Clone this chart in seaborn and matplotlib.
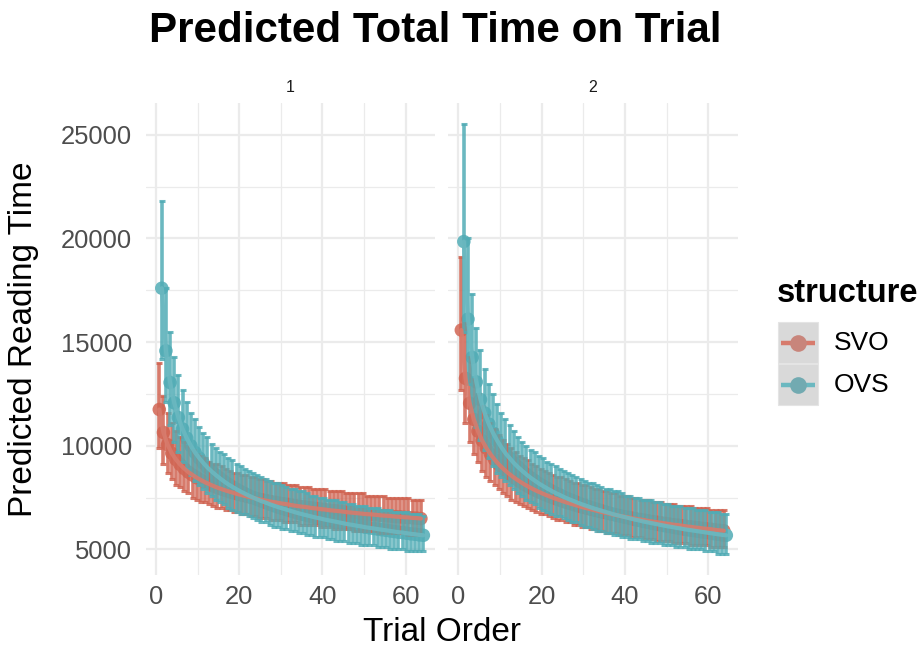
import numpy as np
import pandas as pd
import matplotlib
matplotlib.use('Agg')
import matplotlib.pyplot as plt
import seaborn as sns
from matplotlib.lines import Line2D
from matplotlib.patches import Rectangle
from matplotlib.ticker import FixedLocator

# ---------------- data ----------------
trials = list(range(1, 65))
structures = ['SVO', 'OVS']
panels = ['1', '2']
title = 'Predicted Total Time on Trial'
x_label = 'Trial Order'
y_label = 'Predicted Reading Time'
legend_title = 'structure'
x_ticks = [0, 20, 40, 60]
y_ticks = [5000, 10000, 15000, 20000, 25000]

svo1_fit = [11750, 10640, 10050, 9640, 9340, 9100, 8900, 8730, 8590, 8460, 8350, 8240, 8150, 8060, 7980, 7910,
            7840, 7780, 7720, 7660, 7610, 7560, 7510, 7470, 7420, 7380, 7340, 7300, 7270, 7230, 7200, 7170,
            7130, 7100, 7070, 7050, 7020, 6990, 6970, 6940, 6920, 6890, 6870, 6850, 6830, 6800, 6780, 6760,
            6740, 6720, 6700, 6690, 6670, 6650, 6630, 6620, 6600, 6580, 6570, 6550, 6540, 6520, 6510, 6490]
svo1_lo = [9900, 9100, 8700, 8400, 8100, 8000, 7800, 7700, 7500, 7400, 7300, 7300, 7200, 7100, 7000, 7000,
           6900, 6900, 6800, 6800, 6700, 6700, 6600, 6600, 6500, 6500, 6500, 6400, 6400, 6400, 6300, 6300,
           6300, 6300, 6200, 6200, 6200, 6200, 6200, 6100, 6100, 6100, 6000, 6000, 6000, 6000, 6000, 5900,
           5900, 5900, 5900, 5900, 5900, 5800, 5800, 5800, 5800, 5800, 5800, 5800, 5700, 5700, 5700, 5700]
svo1_hi = [14000, 12400, 11600, 11100, 10700, 10400, 10200, 10000, 9800, 9600, 9500, 9400, 9200, 9100, 9100, 9000,
           8900, 8800, 8700, 8700, 8600, 8600, 8500, 8500, 8400, 8400, 8300, 8300, 8200, 8200, 8200, 8100,
           8100, 8100, 8000, 8000, 8000, 7900, 7900, 7900, 7900, 7800, 7800, 7800, 7800, 7700, 7700, 7700,
           7700, 7700, 7600, 7600, 7600, 7600, 7600, 7500, 7500, 7500, 7500, 7500, 7500, 7400, 7400, 7400]

ovs1_fit = [17600, 14580, 13050, 12070, 11360, 10810, 10370, 10000, 9680, 9410, 9170, 8950, 8760, 8590, 8430, 8280,
            8140, 8020, 7900, 7790, 7690, 7590, 7500, 7410, 7330, 7260, 7180, 7110, 7040, 6980, 6920, 6860,
            6800, 6740, 6690, 6640, 6590, 6540, 6500, 6450, 6410, 6370, 6330, 6290, 6250, 6210, 6180, 6140,
            6110, 6070, 6040, 6010, 5980, 5950, 5920, 5890, 5860, 5830, 5810, 5780, 5750, 5730, 5700, 5680]
ovs1_lo = [14200, 12100, 11000, 10200, 9700, 9200, 8900, 8600, 8300, 8100, 7900, 7700, 7600, 7400, 7300, 7200,
           7000, 6900, 6800, 6700, 6700, 6600, 6500, 6400, 6300, 6300, 6200, 6100, 6100, 6000, 6000, 5900,
           5900, 5800, 5800, 5700, 5700, 5600, 5600, 5600, 5500, 5500, 5400, 5400, 5400, 5300, 5300, 5300,
           5200, 5200, 5200, 5200, 5100, 5100, 5100, 5000, 5000, 5000, 5000, 4900, 4900, 4900, 4900, 4900]
ovs1_hi = [21800, 17600, 15500, 14300, 13400, 12700, 12100, 11600, 11300, 10900, 10600, 10400, 10100, 9900, 9700, 9600,
           9400, 9300, 9100, 9000, 8900, 8800, 8700, 8600, 8500, 8400, 8300, 8200, 8200, 8100, 8000, 7900,
           7900, 7800, 7800, 7700, 7600, 7600, 7500, 7500, 7400, 7400, 7400, 7300, 7300, 7200, 7200, 7100,
           7100, 7100, 7000, 7000, 7000, 6900, 6900, 6900, 6800, 6800, 6800, 6800, 6700, 6700, 6700, 6600]

svo2_fit = [15580, 13250, 12050, 11270, 10700, 10250, 9890, 9590, 9330, 9100, 8900, 8720, 8560, 8410, 8280, 8150,
            8040, 7930, 7830, 7740, 7650, 7570, 7490, 7420, 7350, 7280, 7220, 7160, 7100, 7040, 6990, 6940,
            6890, 6840, 6790, 6750, 6700, 6660, 6620, 6580, 6550, 6510, 6470, 6440, 6410, 6370, 6340, 6310,
            6280, 6250, 6220, 6190, 6170, 6140, 6110, 6090, 6060, 6040, 6010, 5990, 5970, 5940, 5920, 5900]
svo2_lo = [12700, 11100, 10200, 9600, 9200, 8800, 8500, 8300, 8100, 7900, 7700, 7600, 7400, 7300, 7200, 7100,
           7000, 6900, 6800, 6700, 6700, 6600, 6500, 6400, 6400, 6300, 6300, 6200, 6200, 6100, 6100, 6000,
           6000, 5900, 5900, 5800, 5800, 5800, 5700, 5700, 5700, 5600, 5600, 5600, 5500, 5500, 5500, 5400,
           5400, 5400, 5400, 5300, 5300, 5300, 5300, 5200, 5200, 5200, 5200, 5200, 5100, 5100, 5100, 5100]
svo2_hi = [19100, 15900, 14300, 13200, 12500, 11900, 11500, 11100, 10800, 10500, 10300, 10100, 9900, 9700, 9500, 9400,
           9300, 9100, 9000, 8900, 8800, 8700, 8600, 8500, 8500, 8400, 8300, 8200, 8200, 8100, 8100, 8000,
           7900, 7900, 7800, 7800, 7700, 7700, 7600, 7600, 7600, 7500, 7500, 7400, 7400, 7400, 7300, 7300,
           7300, 7200, 7200, 7200, 7100, 7100, 7100, 7100, 7000, 7000, 7000, 7000, 6900, 6900, 6900, 6900]

ovs2_fit = [19850, 16110, 14260, 13080, 12230, 11580, 11050, 10620, 10250, 9930, 9640, 9400, 9170, 8970, 8790, 8620,
            8460, 8320, 8180, 8060, 7940, 7830, 7720, 7630, 7530, 7440, 7360, 7280, 7200, 7130, 7060, 6990,
            6930, 6870, 6810, 6750, 6690, 6640, 6590, 6540, 6490, 6440, 6400, 6350, 6310, 6270, 6230, 6190,
            6150, 6110, 6080, 6040, 6010, 5970, 5940, 5910, 5880, 5850, 5820, 5790, 5760, 5730, 5700, 5680]
ovs2_lo = [15500, 13000, 11700, 10900, 10300, 9800, 9400, 9000, 8700, 8500, 8300, 8100, 7900, 7700, 7600, 7400,
           7300, 7200, 7000, 6900, 6800, 6700, 6600, 6600, 6500, 6400, 6300, 6300, 6200, 6100, 6100, 6000,
           5900, 5900, 5800, 5800, 5700, 5700, 5600, 5600, 5500, 5500, 5500, 5400, 5400, 5300, 5300, 5300,
           5200, 5200, 5200, 5100, 5100, 5100, 5000, 5000, 5000, 5000, 4900, 4900, 4900, 4800, 4800, 4800]
ovs2_hi = [25500, 20000, 17300, 15700, 14600, 13700, 13000, 12500, 12000, 11600, 11300, 11000, 10700, 10400, 10200, 10000,
           9800, 9700, 9500, 9400, 9200, 9100, 9000, 8900, 8800, 8700, 8600, 8500, 8400, 8300, 8200, 8200,
           8100, 8000, 7900, 7900, 7800, 7800, 7700, 7600, 7600, 7500, 7500, 7400, 7400, 7400, 7300, 7300,
           7200, 7200, 7100, 7100, 7100, 7000, 7000, 7000, 6900, 6900, 6900, 6800, 6800, 6800, 6700, 6700]

# ---------------- build table ----------------
series = [
    ('1', 'SVO', svo1_fit, svo1_lo, svo1_hi),
    ('1', 'OVS', ovs1_fit, ovs1_lo, ovs1_hi),
    ('2', 'SVO', svo2_fit, svo2_lo, svo2_hi),
    ('2', 'OVS', ovs2_fit, ovs2_lo, ovs2_hi),
]
rows = []
for panel, struct, fit, lo, hi in series:
    for t, f, l, h in zip(trials, fit, lo, hi):
        rows.append(dict(panel=panel, structure=struct, trial=t, fit=f, lo=l, hi=h))
df = pd.DataFrame(rows)
dodge = {'SVO': -0.3, 'OVS': 0.3}
df['xpos'] = df['trial'] + df['structure'].map(dodge)

palette = {'SVO': '#D77B6C', 'OVS': '#6BB8C0'}
bar_colour = {'SVO': '#D06452', 'OVS': '#51ACB5'}
key_point = {'SVO': '#C8857B', 'OVS': '#72AAB1'}

sns.set_theme(style='whitegrid')
plt.rcParams['font.family'] = ['Liberation Sans', 'DejaVu Sans']

W, H = 920, 650
fx = lambda px: px / W
fy = lambda py: 1 - py / H

fig = plt.figure(figsize=(9.2, 6.5), dpi=100)
fig.patch.set_facecolor('white')
top_px, bot_px = 103, 575
ax1 = fig.add_axes([fx(146), fy(bot_px), (435 - 146) / W, (bot_px - top_px) / H])
ax2 = fig.add_axes([fx(448), fy(bot_px), (738 - 448) / W, (bot_px - top_px) / H])
axes = [ax1, ax2]

for ax, panel in zip(axes, panels):
    sub = df[df['panel'] == panel]
    ax.set_facecolor('white')
    sns.scatterplot(data=sub, x='xpos', y='fit', hue='structure', hue_order=structures,
                    palette=palette, s=95, linewidth=0, legend=False, zorder=2, ax=ax)
    for struct in structures:
        d = sub[sub['structure'] == struct]
        eb = ax.errorbar(d['xpos'], d['fit'], yerr=[d['fit'] - d['lo'], d['hi'] - d['fit']],
                         fmt='none', ecolor=bar_colour[struct], elinewidth=2.6, capsize=2.0,
                         capthick=2.2, zorder=3, alpha=0.85)
    sns.lineplot(data=sub, x='xpos', y='fit', hue='structure', hue_order=structures,
                 palette=palette, linewidth=3.0, legend=False, zorder=4, ax=ax,
                 estimator=None, sort=True, alpha=0.9)
    ax.set_xlim(-2.5, 67.1)
    ax.set_ylim(3765, 26535)
    ax.xaxis.set_major_locator(FixedLocator(x_ticks))
    ax.xaxis.set_minor_locator(FixedLocator([10, 30, 50]))
    ax.yaxis.set_major_locator(FixedLocator(y_ticks))
    ax.yaxis.set_minor_locator(FixedLocator([7500, 12500, 17500, 22500]))
    ax.grid(which='major', color='#EBEBEB', linewidth=1.6)
    ax.grid(which='minor', color='#EBEBEB', linewidth=0.9)
    ax.set_axisbelow(True)
    for s in ax.spines.values():
        s.set_visible(False)
    ax.tick_params(which='both', length=0, labelsize=18.4, labelcolor='#4D4D4D')
    ax.tick_params(axis='x', pad=7)
    ax.tick_params(axis='y', pad=10)
    ax.set_xlabel('')
    ax.set_ylabel('')

ax1.set_yticklabels([str(v) for v in y_ticks])
ax2.tick_params(axis='y', labelleft=False)

# facet strip labels
for ax, panel in zip(axes, panels):
    pos = ax.get_position()
    fig.text((pos.x0 + pos.x1) / 2, fy(88), panel, ha='center', va='center',
             fontsize=11.5, color='#1A1A1A')

# titles
fig.text(fx(435.5), fy(31), title, ha='center', va='center', fontsize=30.3,
         fontweight='bold', color='black')
fig.text(fx(442), fy(641), x_label, ha='center', va='baseline', fontsize=24, color='black')
fig.text(fx(24), fy(339), y_label, ha='center', va='center', rotation=90, fontsize=24,
         color='black')

# legend
fig.text(fx(777), fy(293), legend_title, ha='left', va='center', fontsize=23.5,
         fontweight='bold', color='black')
key_tops = [322, 364]
for struct, ktop in zip(structures, key_tops):
    fig.add_artist(Rectangle((fx(778), fy(ktop + 41)), 40 / W, 41 / H, transform=fig.transFigure,
                             facecolor='#D9D9D9', edgecolor='#E4E4E4', linewidth=0.8))
    yc = fy(ktop + 20.5)
    fig.add_artist(Line2D([fx(781), fx(815)], [yc, yc], transform=fig.transFigure,
                          color=palette[struct], linewidth=3.2, solid_capstyle='butt'))
    fig.add_artist(Line2D([fx(798)], [yc], transform=fig.transFigure, marker='o',
                          markersize=12, markerfacecolor=key_point[struct],
                          markeredgewidth=0, linestyle='none'))
    fig.text(fx(834), yc, struct, ha='left', va='center', fontsize=19, color='black')

fig.savefig('out.png', dpi=100, facecolor='white')
